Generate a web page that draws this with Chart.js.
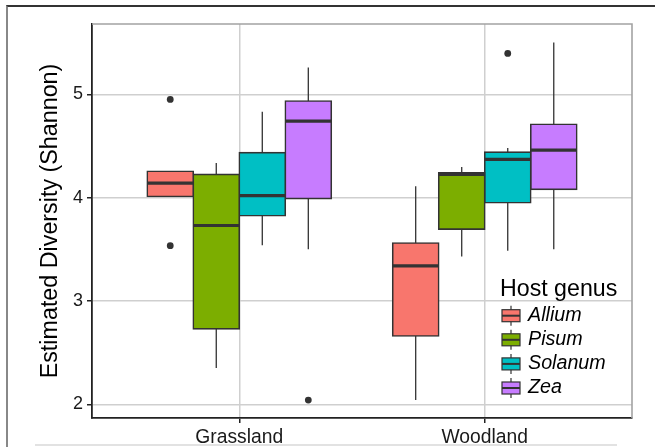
<!DOCTYPE html>
<html>
<head>
<meta charset="utf-8">
<script src="https://cdn.jsdelivr.net/npm/chart.js@4.4.0/dist/chart.umd.min.js"></script>
<style>
  html, body { margin: 0; padding: 0; background: #fff; }
  #wrap { position: relative; width: 655px; height: 447px; }
  #frame { position: absolute; left: 6px; top: 5px; right: 0; bottom: 0; border-top: 2px solid #333; border-left: 2px solid #888; pointer-events: none; }
  #foot { position: absolute; left: 35px; width: 582px; top: 444px; border-top: 2px solid #e2e2e2; pointer-events: none; }
</style>
</head>
<body>
<div id="wrap">
  <canvas id="boxplot"></canvas>
  <div id="frame"></div>
  <div id="foot"></div>
</div>
<script>
const categories = ["Grassland", "Woodland"];
const genera = ["Allium", "Pisum", "Solanum", "Zea"];
// [lower whisker, Q1, median, Q3, upper whisker], one row per category
const allium  = [[4.01, 4.01, 4.14, 4.255, 4.255], [2.04, 2.66, 3.34, 3.56, 4.11]];
const pisum   = [[2.35, 2.73, 3.73, 4.225, 4.335], [3.43, 3.695, 4.225, 4.24, 4.295]];
const solanum = [[3.54, 3.825, 4.02, 4.435, 4.83], [3.485, 3.95, 4.37, 4.44, 4.48]];
const zea     = [[3.50, 3.99, 4.74, 4.935, 5.26], [3.50, 4.08, 4.46, 4.71, 5.50]];
// outlying points, one list per category
const alliumOut  = [[4.95, 3.535], []];
const pisumOut   = [[], []];
const solanumOut = [[], [5.395]];
const zeaOut     = [[2.04], []];
const yTicks = [2, 3, 4, 5];

const colors = ["#F8766D", "#7CAE00", "#00BFC4", "#C77CFF"];
const stats = [allium, pisum, solanum, zea];
const outliers = [alliumOut, pisumOut, solanumOut, zeaOut];
const ink = "#333333";
const family = "'Liberation Sans', Arial, Helvetica, sans-serif";

Chart.defaults.font.family = family;

// gray top/right panel border
const plotFrame = {
  id: "plotFrame",
  beforeDatasetsDraw(chart) {
    const { ctx, chartArea: a } = chart;
    ctx.save();
    ctx.strokeStyle = "#a3a3a3";
    ctx.lineWidth = 1.6;
    ctx.beginPath();
    ctx.moveTo(a.left, a.top);
    ctx.lineTo(a.right, a.top);
    ctx.lineTo(a.right, a.bottom);
    ctx.stroke();
    ctx.restore();
  }
};

// whiskers, medians and outliers on top of the floating-bar boxes
const boxParts = {
  id: "boxParts",
  afterDatasetsDraw(chart) {
    const { ctx } = chart;
    const y = chart.scales.y;
    ctx.save();
    ctx.strokeStyle = ink;
    ctx.fillStyle = ink;
    chart.data.datasets.forEach((ds, d) => {
      chart.getDatasetMeta(d).data.forEach((bar, i) => {
        const [lo, q1, med, q3, hi] = stats[d][i];
        const half = bar.width / 2;
        ctx.lineWidth = 1.3;
        ctx.beginPath();
        if (hi > q3) {
          ctx.moveTo(bar.x, y.getPixelForValue(q3));
          ctx.lineTo(bar.x, y.getPixelForValue(hi));
        }
        if (lo < q1) {
          ctx.moveTo(bar.x, y.getPixelForValue(q1));
          ctx.lineTo(bar.x, y.getPixelForValue(lo));
        }
        ctx.stroke();
        ctx.lineWidth = 3.2;
        ctx.beginPath();
        ctx.moveTo(bar.x - half, y.getPixelForValue(med));
        ctx.lineTo(bar.x + half, y.getPixelForValue(med));
        ctx.stroke();
        outliers[d][i].forEach(v => {
          ctx.beginPath();
          ctx.arc(bar.x, y.getPixelForValue(v), 3.4, 0, Math.PI * 2);
          ctx.fill();
        });
      });
    });
    ctx.restore();
  }
};

// ggplot-style legend inside the panel
const hostLegend = {
  id: "hostLegend",
  afterDraw(chart) {
    const { ctx, chartArea: a } = chart;
    const left = a.right - 132;
    const top = a.top + 272;
    ctx.save();
    ctx.fillStyle = "#000";
    ctx.textBaseline = "alphabetic";
    ctx.font = "23.2px " + family;
    ctx.fillText("Host genus", left, top);
    genera.forEach((g, d) => {
      const cy = top + 19.7 + d * 24.1;
      const kx = left + 2, kw = 18, kh = 12;
      ctx.strokeStyle = ink;
      ctx.lineWidth = 1.2;
      ctx.beginPath();
      ctx.moveTo(kx + kw / 2, cy - kh / 2 - 4);
      ctx.lineTo(kx + kw / 2, cy + kh / 2 + 4);
      ctx.stroke();
      ctx.fillStyle = colors[d];
      ctx.fillRect(kx, cy - kh / 2, kw, kh);
      ctx.strokeRect(kx, cy - kh / 2, kw, kh);
      ctx.lineWidth = 2;
      ctx.beginPath();
      ctx.moveTo(kx, cy);
      ctx.lineTo(kx + kw, cy);
      ctx.stroke();
      ctx.fillStyle = "#000";
      ctx.textBaseline = "middle";
      ctx.font = "italic 19.7px " + family;
      ctx.fillText(g, left + 28, cy);
    });
    ctx.restore();
  }
};

new Chart(document.getElementById("boxplot"), {
  type: "bar",
  data: {
    datasets: genera.map((g, d) => ({
      label: g,
      data: stats[d].map((s, i) => ({ x: i + 1, y: [s[1], s[3]] })),
      backgroundColor: colors[d],
      borderColor: ink,
      borderWidth: 1.6,
      borderSkipped: false,
      inflateAmount: 0.8,
      categoryPercentage: 0.75,
      barPercentage: 1
    }))
  },
  options: {
    responsive: true,
    maintainAspectRatio: false,
    animation: false,
    layout: { padding: { left: 8, right: 23, top: 24, bottom: 0 } },
    plugins: { legend: { display: false }, tooltip: { enabled: false } },
    scales: {
      x: {
        type: "linear",
        min: 0.4,
        max: 2.6,
        offset: false,
        afterBuildTicks: s => { s.ticks = categories.map((c, i) => ({ value: i + 1 })); },
        afterFit: s => { s.height = 29; },
        ticks: {
          callback: v => categories[v - 1],
          color: "#1a1a1a",
          font: { size: 19.3 },
          padding: 3,
          autoSkip: false,
          maxRotation: 0
        },
        grid: { color: "#cfcfcf", lineWidth: 1.5, tickColor: "#222", tickLength: 5, offset: false },
        border: { color: "#222", width: 1.8 }
      },
      y: {
        type: "linear",
        min: 1.867,
        max: 5.68,
        stacked: false,
        afterBuildTicks: s => { s.ticks = yTicks.map(v => ({ value: v })); },
        afterFit: s => { s.width = 84; },
        ticks: { color: "#1a1a1a", font: { size: 18 }, padding: 4 },
        grid: { color: "#cfcfcf", lineWidth: 1.5, tickColor: "#222", tickLength: 5 },
        border: { color: "#222", width: 1.8 },
        title: {
          display: true,
          text: "Estimated Diversity (Shannon)",
          color: "#000",
          font: { size: 23.3 },
          padding: { top: 29, bottom: 0 }
        }
      }
    }
  },
  plugins: [plotFrame, boxParts, hostLegend]
});
</script>
</body>
</html>
